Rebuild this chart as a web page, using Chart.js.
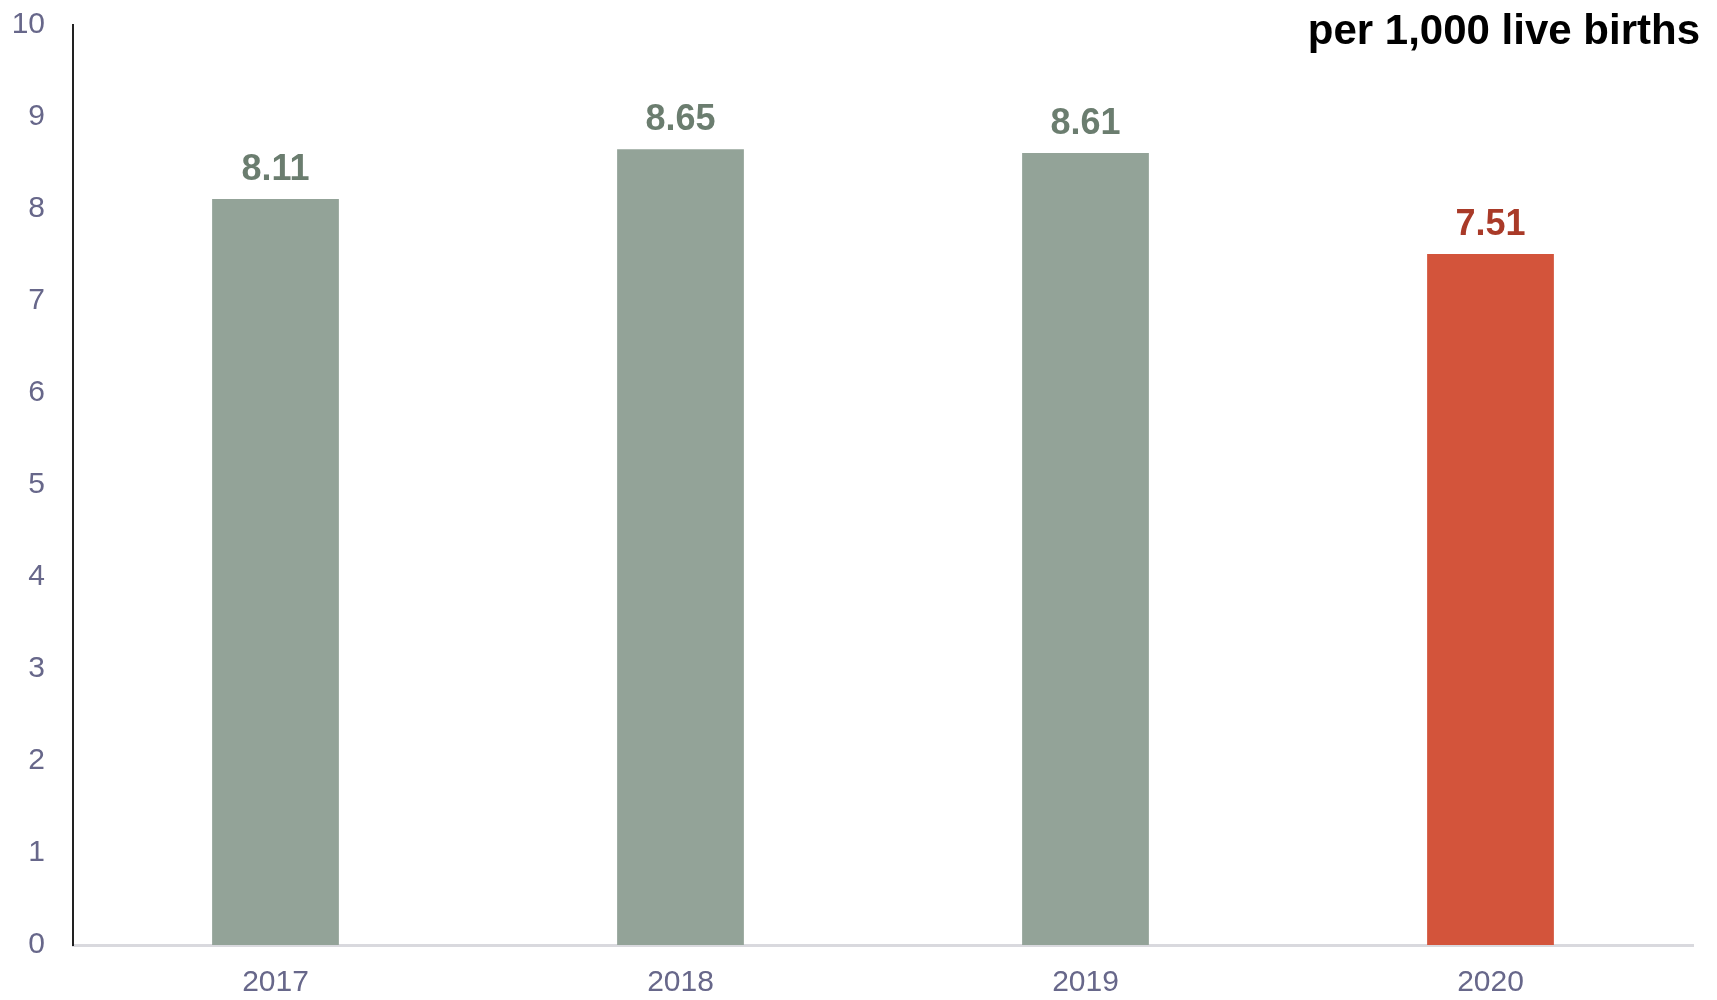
<!DOCTYPE html>
<html lang="en">
<head>
  <meta charset="UTF-8">
  <title>Rate per 1,000 live births</title>
  <script src="https://cdn.jsdelivr.net/npm/chart.js"></script>
  <style>
    html, body { margin: 0; padding: 0; background: #fff; }
    #wrap { width: 1717px; height: 1000px; }
  </style>
</head>
<body>
  <div id="wrap"><canvas id="chart"></canvas></div>

  <script>
    const years = ['2017', '2018', '2019', '2020'];
    const rates = [8.11, 8.65, 8.61, 7.51];
    const yTicks = [0, 1, 2, 3, 4, 5, 6, 7, 8, 9, 10];
    const unitLabel = 'per 1,000 live births';

    const FONT = '"Liberation Sans", Arial, sans-serif';
    const barColors = ['#93a398', '#93a398', '#93a398', '#d3543b'];
    const labelColors = ['#6b7d6f', '#6b7d6f', '#6b7d6f', '#a93a28'];

    // value labels above bars + unit text top right
    const labelPlugin = {
      id: 'valueLabels',
      afterDatasetsDraw(chart) {
        const ctx = chart.ctx;
        const meta = chart.getDatasetMeta(0);
        ctx.save();
        ctx.font = 'bold 36px ' + FONT;
        ctx.textAlign = 'center';
        ctx.textBaseline = 'alphabetic';
        meta.data.forEach(function (bar, i) {
          ctx.fillStyle = labelColors[i];
          ctx.fillText(rates[i].toFixed(2), bar.x, bar.y - 19);
        });
        ctx.font = 'bold 42px ' + FONT;
        ctx.fillStyle = '#000';
        ctx.textAlign = 'right';
        ctx.fillText(unitLabel, 1700, 44);
        ctx.restore();
      }
    };

    new Chart(document.getElementById('chart').getContext('2d'), {
      type: 'bar',
      data: {
        labels: years,
        datasets: [{
          data: rates,
          backgroundColor: barColors,
          borderWidth: 0,
          barPercentage: 0.313,
          categoryPercentage: 1
        }]
      },
      options: {
        responsive: true,
        maintainAspectRatio: false,
        animation: false,
        layout: { padding: { top: 25, right: 24, left: 0, bottom: 0 } },
        plugins: {
          legend: { display: false },
          tooltip: { enabled: false }
        },
        scales: {
          x: {
            grid: { display: false, drawTicks: false },
            border: { display: true, color: '#d9d9de', width: 3 },
            ticks: { color: '#67678a', font: { family: FONT, size: 30 }, padding: 20 },
            afterFit: function (scale) {
              scale.height = 55;
              scale.paddingLeft = 0;
              scale.paddingRight = 0;
            }
          },
          y: {
            min: 0,
            max: 10,
            afterBuildTicks: function (scale) {
              scale.ticks = yTicks.map(function (v) { return { value: v }; });
            },
            grid: { display: false, drawTicks: false },
            border: { display: true, color: '#222', width: 2 },
            ticks: { color: '#67678a', font: { family: FONT, size: 30 }, padding: 28 },
            afterFit: function (scale) {
              scale.width = 73;
              scale.paddingTop = 0;
              scale.paddingBottom = 0;
            }
          }
        }
      },
      plugins: [labelPlugin]
    });
  </script>
</body>
</html>
